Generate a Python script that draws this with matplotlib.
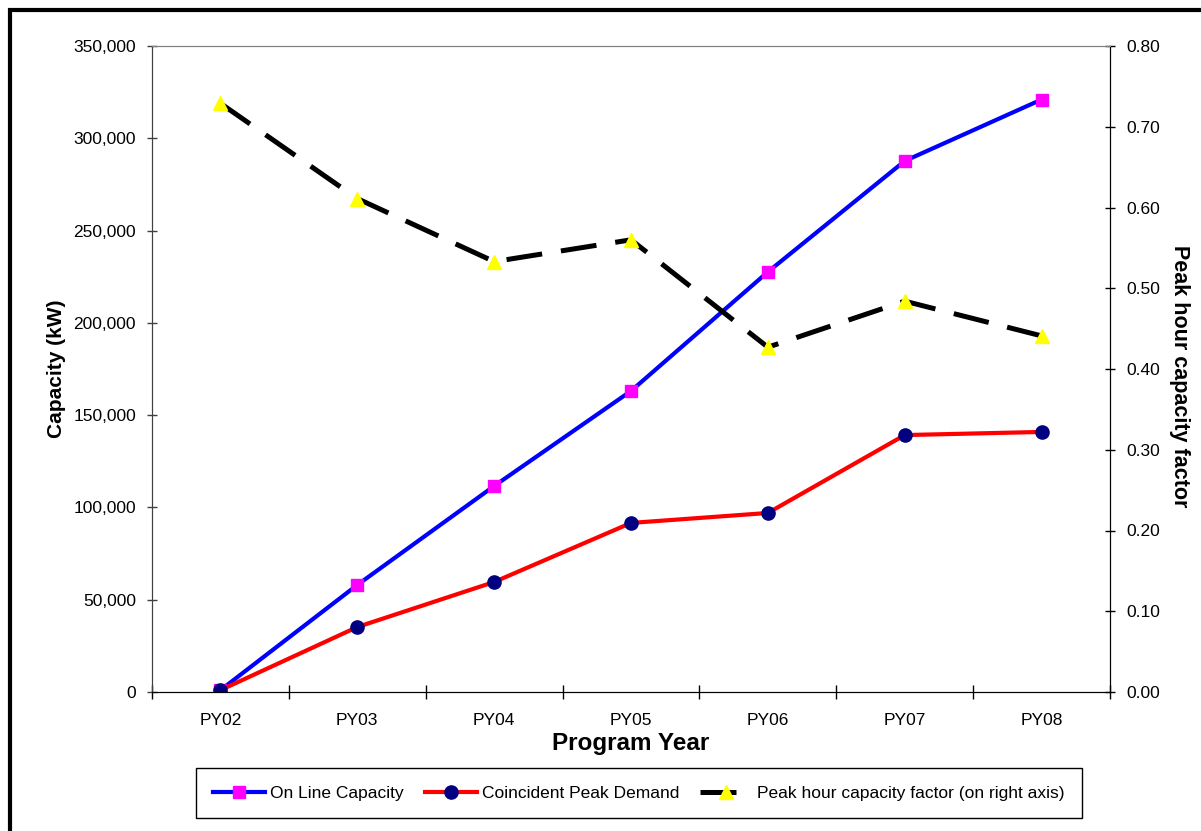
import matplotlib.pyplot as plt
from matplotlib.patches import Rectangle
from matplotlib.ticker import FuncFormatter, FixedLocator

plt.rcParams['font.family'] = ['Liberation Sans', 'DejaVu Sans']

# Data
years = ['PY02', 'PY03', 'PY04', 'PY05', 'PY06', 'PY07', 'PY08']
online_capacity = [1000, 58000, 111600, 163100, 227600, 287700, 321000]
peak_demand = [1000, 35200, 59600, 91600, 97000, 139200, 140900]
capacity_factor = [0.729, 0.611, 0.533, 0.560, 0.427, 0.484, 0.441]

x = list(range(len(years)))

fig = plt.figure(figsize=(12.01, 8.31), dpi=100)
ax = fig.add_axes([152 / 1201, 139 / 831, 958 / 1201, 646 / 831])
ax2 = ax.twinx()

l1, = ax.plot(x, online_capacity, color='#0000ff', lw=3, marker='s', ms=8.5,
              mfc='#ff00ff', mec='#ff00ff', label='On Line Capacity')
l2, = ax.plot(x, peak_demand, color='#ff0000', lw=3, marker='o', ms=9.5,
              mfc='#000080', mec='#000080', label='Coincident Peak Demand')
l3, = ax2.plot(x, capacity_factor, color='black', lw=3.6, ls=(0, (7.2, 3.8)),
               dash_capstyle='butt', marker='^', ms=10, mfc='#ffff00', mec='#ffff00',
               label='Peak hour capacity factor (on right axis)')

# axes limits / ticks
ax.set_xlim(-0.5, len(years) - 0.5)
ax.set_ylim(0, 350000)
ax2.set_ylim(0, 0.8)
ax.set_yticks(range(0, 350001, 50000))
ax.yaxis.set_major_formatter(FuncFormatter(lambda v, p: f'{int(v):,}'))
ax2.set_yticks([i / 10 for i in range(9)])
ax2.yaxis.set_major_formatter(FuncFormatter(lambda v, p: f'{v:.2f}'))

ax.set_xticks(x)
ax.set_xticklabels(years)
ax.xaxis.set_minor_locator(FixedLocator([i - 0.5 for i in range(len(years) + 1)]))
ax.tick_params(axis='x', which='major', length=0, pad=15, labelsize=12.5)
ax.tick_params(axis='x', which='minor', direction='inout', length=10, width=1)
ax.tick_params(axis='y', direction='inout', length=7, width=1, labelsize=12.5, pad=8,
               color='#404040')
ax2.tick_params(axis='y', direction='inout', length=7, width=1, labelsize=12.5, pad=8)

for a in (ax, ax2):
    a.spines['top'].set_color('#808080')
    a.spines['left'].set_color('#404040')
    a.spines['bottom'].set_color('black')
    a.spines['right'].set_color('black')

# labels
ax.set_xlabel('Program Year', fontsize=17.5, fontweight='bold')
ax.xaxis.label.set_va('center')
ax.xaxis.set_label_coords(0.5, -0.079)

ax.set_ylabel('Capacity (kW)', fontsize=15, fontweight='bold')
ax.yaxis.label.set(ha='center', va='center', rotation_mode='anchor')
ax.yaxis.set_label_coords(-0.100, 0.5)

ax2.set_ylabel('Peak hour capacity factor', fontsize=15.5, fontweight='bold',
               rotation=-90)
ax2.yaxis.label.set(ha='center', va='center', rotation_mode='anchor')
ax2.yaxis.set_label_coords(1.073, 0.489)

# legend
leg = fig.legend(handles=[l1, l2, l3], loc='center', bbox_to_anchor=(0.532, 0.0457),
                 ncol=3, fontsize=12.5, frameon=True, fancybox=False, framealpha=1,
                 edgecolor='black', handlelength=3, handletextpad=0.3,
                 columnspacing=1.2, borderpad=1.0)
leg.get_frame().set_linewidth(1)

# outer chart frame (cropped at right and bottom)
fig.add_artist(Rectangle((9.5 / 1201, -0.2), 1.2, 1.2 - 10 / 831,
                         transform=fig.transFigure, fill=False, lw=3, ec='black'))

fig.savefig('out.png', dpi=100)
